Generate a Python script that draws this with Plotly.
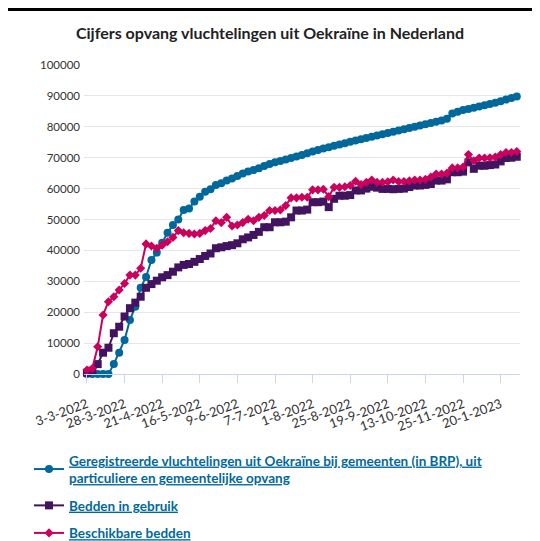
import plotly.graph_objects as go

dates = [
    "3-3-2022", "7-3-2022", "10-3-2022", "14-3-2022", "17-3-2022", "21-3-2022", "24-3-2022",
    "28-3-2022", "31-3-2022", "4-4-2022", "7-4-2022", "11-4-2022", "14-4-2022", "19-4-2022",
    "21-4-2022", "25-4-2022", "28-4-2022", "2-5-2022", "5-5-2022", "9-5-2022", "12-5-2022",
    "16-5-2022", "19-5-2022", "23-5-2022", "25-5-2022", "30-5-2022", "2-6-2022", "7-6-2022",
    "9-6-2022", "13-6-2022", "16-6-2022", "20-6-2022", "23-6-2022", "27-6-2022", "30-6-2022",
    "7-7-2022", "11-7-2022", "14-7-2022", "18-7-2022", "21-7-2022", "25-7-2022", "28-7-2022",
    "1-8-2022", "4-8-2022", "8-8-2022", "11-8-2022", "15-8-2022", "18-8-2022", "22-8-2022",
    "25-8-2022", "29-8-2022", "1-9-2022", "5-9-2022", "8-9-2022", "12-9-2022", "15-9-2022",
    "19-9-2022", "22-9-2022", "26-9-2022", "29-9-2022", "3-10-2022", "6-10-2022", "10-10-2022",
    "13-10-2022", "20-10-2022", "27-10-2022", "3-11-2022", "10-11-2022", "17-11-2022", "22-11-2022",
    "25-11-2022", "2-12-2022", "9-12-2022", "16-12-2022", "23-12-2022", "6-1-2023", "13-1-2023",
    "20-1-2023", "27-1-2023", "3-2-2023", "10-2-2023",
]

tick_labels = ["3-3-2022", "28-3-2022", "21-4-2022", "16-5-2022", "9-6-2022", "7-7-2022",
               "1-8-2022", "25-8-2022", "19-9-2022", "13-10-2022", "25-11-2022", "20-1-2023"]

geregistreerd = [
    0, 0, 0, 0, 0, 3200, 6900, 11000, 17500, 21800, 27900, 31400, 36900, 39300, 42500,
    45700, 48200, 50000, 53100, 53600, 55800, 57400, 59000, 59800, 61200, 61700, 62600, 63300,
    64100, 64900, 65500, 66000, 66600, 67300, 68000, 68500, 68900, 69400, 69900, 70400, 70900,
    71400, 72000, 72500, 73000, 73400, 73900, 74300, 74700, 75200, 75600, 76000, 76400, 76800,
    77200, 77600, 78000, 78400, 78800, 79200, 79600, 80000, 80400, 80800, 81200, 81600, 82000,
    82600, 84300, 84900, 85400, 85800, 86200, 86600, 87000, 87400, 87800, 88300, 88800, 89300,
    89800,
]

bedden_in_gebruik = [
    400, 1100, 3200, 6900, 8500, 13200, 15300, 18600, 21300, 23100, 25000, 27900, 29100, 30200,
    31300, 32000, 33100, 34500, 35300, 35600, 36300, 37200, 38200, 39000, 40700, 41000, 41400,
    41700, 42300, 43600, 44200, 45000, 46000, 47500, 47500, 49100, 49100, 49300, 50700, 52900,
    52900, 53200, 55600, 55600, 55800, 54000, 56700, 57700, 57700, 57900, 59400, 59400, 60000,
    60600, 60300, 59900, 59900, 59800, 59900, 60000, 60500, 61000, 61000, 61200, 61500, 62600,
    62600, 63000, 65300, 65300, 65500, 68500, 66400, 67400, 67400, 67600, 67800, 68800, 69900,
    70000, 70300,
]

beschikbare_bedden = [
    1300, 1800, 8800, 19100, 23400, 25000, 27200, 29300, 32000, 32000, 34200, 42100, 41400,
    40700, 41700, 42800, 44200, 46400, 45700, 45500, 45300, 45500, 46400, 47100, 49600, 49000,
    50700, 47900, 48200, 49000, 50100, 49600, 50700, 51300, 52900, 52900, 53100, 54500, 57000,
    57000, 57200, 57200, 59600, 59600, 59800, 57400, 60400, 60400, 60600, 61000, 62400, 61300,
    62000, 62800, 62000, 62000, 62200, 62800, 62300, 62300, 62500, 62800, 62800, 63000, 63700,
    64700, 64700, 65000, 66700, 66700, 67000, 71000, 69000, 69900, 69900, 70000, 70200, 71000,
    71700, 71700, 72000,
]

y_ticks = [0, 10000, 20000, 30000, 40000, 50000, 60000, 70000, 80000, 90000, 100000]

BLUE = "#01689b"
PURPLE = "#42145f"
PINK = "#ca005d"
FONT = "Lato"

fig = go.Figure()
fig.add_trace(go.Scatter(
    x=dates, y=geregistreerd, mode="lines+markers",
    name="<u>Geregistreerde vluchtelingen uit Oekraïne bij gemeenten (in BRP), uit</u><br><u>particuliere en gemeentelijke opvang</u>",
    line=dict(color=BLUE, width=2), marker=dict(symbol="circle", size=8, color=BLUE),
    cliponaxis=False, legendgroup="a",
))
fig.add_trace(go.Scatter(
    x=dates, y=bedden_in_gebruik, mode="lines+markers", name="<u>Bedden in gebruik</u>",
    line=dict(color=PURPLE, width=2), marker=dict(symbol="square", size=8, color=PURPLE),
    cliponaxis=False, legendgroup="b",
))
fig.add_trace(go.Scatter(
    x=dates, y=beschikbare_bedden, mode="lines+markers", name="<u>Beschikbare bedden</u>",
    line=dict(color=PINK, width=2), marker=dict(symbol="diamond", size=7, color=PINK),
    cliponaxis=False, legendgroup="c",
))

# page offset of the figure inside the window (body margin)
OFF = 8
L, R, T, B = 76, 12, 57, 167
W, H = 524, 533
pw, ph = W - L - R, H - T - B

def px_x(p):
    return (p - OFF - L) / pw

def px_y(p):
    return (H - B - (p - OFF)) / ph

fig.add_shape(type="rect", xref="paper", yref="paper",
              x0=px_x(7), x1=px_x(540), y0=px_y(560), y1=px_y(11),
              fillcolor="white", line=dict(width=0), layer="below")

fig.update_layout(
    width=W, height=H,
    margin=dict(l=L, r=R, t=T, b=B, autoexpand=False),
    paper_bgcolor="black", plot_bgcolor="white",
    font=dict(family=FONT, color="#333333"),
    title=dict(text="<b>Cijfers opvang vluchtelingen uit Oekraïne in Nederland</b>",
               x=0.5, xref="container", xanchor="center", y=1 - 25 / H, yanchor="middle",
               font=dict(family=FONT, size=16, color="#222222")),
    showlegend=True,
    legend=dict(orientation="v", x=px_x(29), xanchor="left", y=px_y(445), yanchor="top",
                bgcolor="rgba(0,0,0,0)", tracegroupgap=7,
                font=dict(family=FONT, size=13.5, color=BLUE, weight="bold")),
    xaxis=dict(type="category", categoryorder="array", categoryarray=dates,
               range=[-0.55, 80.6], tickmode="array", tickvals=tick_labels,
               ticktext=tick_labels, tickangle=-20, ticklabelstandoff=9,
               showline=True, linecolor="#ccd6eb", linewidth=1,
               ticks="outside", ticklen=8, tickcolor="#ccd6eb",
               showgrid=False, tickfont=dict(family=FONT, size=13, color="#333333")),
    yaxis=dict(range=[0, 100000], tickvals=y_ticks, tickformat="d",
               showgrid=True, gridcolor="#e6e6e6", zeroline=False,
               ticks="", ticklabelstandoff=3,
               tickfont=dict(family=FONT, size=11.5, color="#333333")),
)

fig.write_html("out.html")
